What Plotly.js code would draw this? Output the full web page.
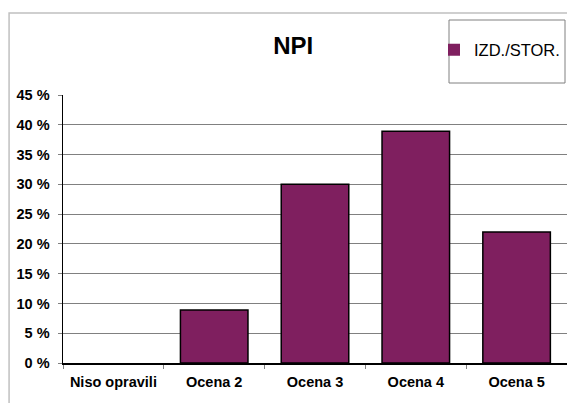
<!DOCTYPE html>
<html><head><meta charset="utf-8">
<script src="https://cdn.plot.ly/plotly-3.0.1.min.js"></script>
<style>html,body{margin:0;padding:0;background:#fff;}#chart{width:567px;height:403px;}</style>
</head><body><div id="chart"></div>
<script>
const categories = ["Niso opravili", "Ocena 2", "Ocena 3", "Ocena 4", "Ocena 5"];
const values = [0, 8.9, 30.0, 38.9, 22.0];
const seriesName = "IZD./STOR.";
const yTicks = [0, 5, 10, 15, 20, 25, 30, 35, 40, 45];

const trace = {
  type: "bar", x: categories, y: values, name: seriesName,
  marker: {color: "#7F1F5F", line: {color: "#000", width: values.map(v => v > 0 ? 1.5 : 0)}},
  width: 0.67, showlegend: true, hoverinfo: "skip"
};
const layout = {
  width: 567, height: 403,
  margin: {l: 63, r: 0, t: 95, b: 40},
  paper_bgcolor: "#fff", plot_bgcolor: "#fff",
  font: {family: "Liberation Sans, Arial, sans-serif", color: "#000"},
  title: {text: "<b>NPI</b>", font: {size: 24, color: "#000"}, x: 0.517, xref: "container", xanchor: "center",
          y: 0.888, yref: "container", yanchor: "middle"},
  showlegend: true,
  legend: {x: (434 - 63) / 504, y: (363 - 50) / 268, xanchor: "left", yanchor: "middle", borderwidth: 0,
           bgcolor: "rgba(0,0,0,0)", font: {size: 16.5}},
  xaxis: {type: "category", showline: true, linecolor: "#000", linewidth: 1.5, ticks: "outside", tickson: "boundaries",
          ticklen: 4, tickcolor: "#808080", tickfont: {size: 14.5}, ticklabelstandoff: 5, showgrid: false, fixedrange: true},
  yaxis: {range: [0, 45], tickvals: yTicks, ticktext: yTicks.map(v => "<b>" + v + " %</b>"), showline: true, linecolor: "#000", linewidth: 1.5,
          ticks: "outside", ticklen: 4, tickcolor: "#808080", tickfont: {size: 14.5}, ticklabelstandoff: 5,
          showgrid: true, gridcolor: "#808080", gridwidth: 1, zeroline: false, fixedrange: true},
  shapes: [
    {type: "rect", xref: "paper", yref: "paper", x0: -0.107, x1: 1.2, y0: -0.3, y1: 1.306,
     line: {color: "#c0c0c0", width: 1.5}, fillcolor: "rgba(0,0,0,0)", layer: "below"},
    {type: "rect", xref: "paper", yref: "paper", x0: (449 - 63) / 504, x1: (565 - 63) / 504,
     y0: (363 - 83) / 268, y1: (363 - 20) / 268, line: {color: "#808080", width: 1}, fillcolor: "rgba(0,0,0,0)", layer: "below"}
  ]
};
layout.xaxis.ticktext = categories.map(c => "<b>" + c + "</b>");
layout.xaxis.tickvals = categories;
Plotly.newPlot("chart", [trace], layout, {displayModeBar: false, staticPlot: true});
</script></body></html>
